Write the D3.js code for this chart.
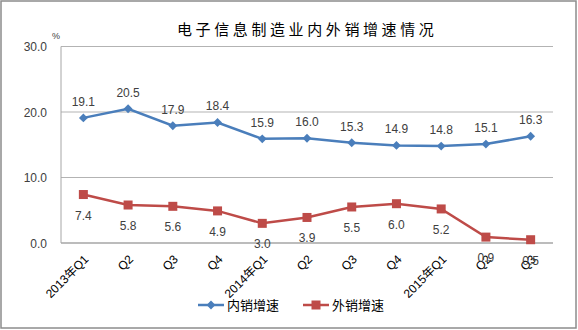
<!DOCTYPE html>
<html><head><meta charset="utf-8">
<script src="https://cdn.jsdelivr.net/npm/d3@7"></script>
<style>body{margin:0;background:#fff}svg{display:block}</style>
</head><body>
<script>
const categories = ["2013年Q1","Q2","Q3","Q4","2014年Q1","Q2","Q3","Q4","2015年Q1","Q2","Q3"];
const domestic = [19.1,20.5,17.9,18.4,15.9,16.0,15.3,14.9,14.8,15.1,16.3];
const exportS = [7.4,5.8,5.6,4.9,3.0,3.9,5.5,6.0,5.2,0.9,0.5];
const yTicks = [0,10,20,30];
const seriesNames = ["内销增速","外销增速"];
const title = "电子信息制造业内外销增速情况";

const W=578,H=330;
const svg=d3.select("body").append("svg").attr("width",W).attr("height",H);
const font="'Liberation Sans','Noto Sans CJK SC',sans-serif";
svg.append("rect").attr("x",1).attr("y",1).attr("width",W-3).attr("height",H-3).attr("fill","#fff").attr("stroke","#8c8c8c").attr("stroke-width",1.5);

const x=d3.scaleBand().domain(d3.range(categories.length)).range([61,553]);
const y=d3.scaleLinear().domain([0,30]).range([243,46.5]);
const cx=i=>x(i)+x.bandwidth()/2;

// grid
svg.append("g").selectAll("line").data(yTicks).join("line")
 .attr("x1",61).attr("x2",553).attr("y1",d=>y(d)).attr("y2",d=>y(d))
 .attr("stroke",d=>d===0?"#a6a6a6":"#b3b3b3").attr("stroke-width",d=>d===0?1.5:1);
svg.append("line").attr("x1",61).attr("x2",61).attr("y1",y(30)).attr("y2",y(0)).attr("stroke","#a6a6a6").attr("stroke-width",1);

const yAxis=d3.axisLeft(y).tickValues(yTicks).tickFormat(d3.format(".1f")).tickSize(0).tickPadding(14);
const ga=svg.append("g").attr("transform","translate(61,0)").call(yAxis);
ga.select(".domain").remove();
ga.selectAll("text").attr("font-family",font).attr("font-size",12).attr("fill","#404040").attr("dy","0.35em");

svg.append("text").attr("x",52).attr("y",39).attr("font-family",font).attr("font-size",9).attr("fill","#404040").text("%");

svg.append("text").attr("x",177).attr("y",35).attr("text-anchor","start").attr("font-family","'Noto Sans CJK SC',sans-serif").attr("font-size",15).attr("letter-spacing",3.6).attr("fill","#000").text(title);

// x labels
svg.append("g").selectAll("text").data(categories).join("text")
 .attr("transform",(d,i)=>`translate(${cx(i)+3},${257}) rotate(-45)`)
 .attr("text-anchor","end").attr("dy","0.35em")
 .attr("font-family",font).attr("font-size",12).attr("fill","#000").text(d=>d);

const line=d3.line().x((d,i)=>cx(i)).y(d=>y(d));
const blue="#4a7ebb", red="#be4b48";
svg.append("path").datum(domestic).attr("d",line).attr("fill","none").attr("stroke",blue).attr("stroke-width",2.5);
svg.append("path").datum(exportS).attr("d",line).attr("fill","none").attr("stroke",red).attr("stroke-width",2.5);

const diamond=d3.symbol().type(d3.symbolDiamond2).size(50);
svg.append("g").selectAll("path").data(domestic).join("path")
 .attr("transform",(d,i)=>`translate(${cx(i)},${y(d)})`).attr("d",diamond).attr("fill",blue);
svg.append("g").selectAll("rect").data(exportS).join("rect")
 .attr("x",(d,i)=>cx(i)-4.5).attr("y",d=>y(d)-4.5).attr("width",9).attr("height",9).attr("fill",red);

svg.append("g").selectAll("text").data(domestic).join("text")
 .attr("x",(d,i)=>cx(i)).attr("y",d=>y(d)-12).attr("text-anchor","middle")
 .attr("font-family",font).attr("font-size",12).attr("fill","#404040").text(d=>d.toFixed(1));
svg.append("g").selectAll("text").data(exportS).join("text")
 .attr("x",(d,i)=>cx(i)).attr("y",d=>y(d)+25).attr("text-anchor","middle")
 .attr("font-family",font).attr("font-size",12).attr("fill","#404040").text(d=>d.toFixed(1));

// legend
const lg=svg.append("g");
const legendX=[198,303];
seriesNames.forEach((n,k)=>{
  const col=k===0?blue:red, lx=legendX[k], ly=305;
  lg.append("line").attr("x1",lx).attr("x2",lx+26).attr("y1",ly).attr("y2",ly).attr("stroke",col).attr("stroke-width",2.5);
  if(k===0) lg.append("path").attr("transform",`translate(${lx+13},${ly})`).attr("d",diamond).attr("fill",col);
  else lg.append("rect").attr("x",lx+13-4.5).attr("y",ly-4.5).attr("width",9).attr("height",9).attr("fill",col);
  lg.append("text").attr("x",lx+29).attr("y",ly).attr("dy","0.35em").attr("font-family","'Noto Sans CJK SC',sans-serif").attr("font-size",13).attr("fill","#000").text(n);
});
</script>
</body></html>
